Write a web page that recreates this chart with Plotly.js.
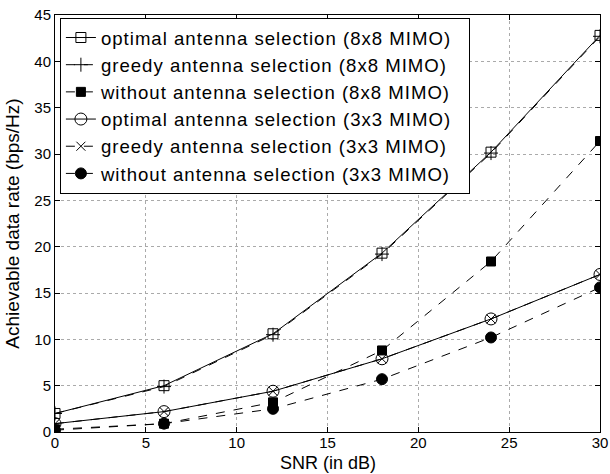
<!DOCTYPE html>
<html>
<head>
<meta charset="utf-8">
<script src="https://cdn.plot.ly/plotly-3.0.1.min.js"></script>
<style>
html,body{margin:0;padding:0;background:#fff;}
#chart{width:610px;height:474px;}
.legendtext{letter-spacing:1px;}
</style>
</head>
<body>
<div id="chart"></div>
<script>
const snr = [0, 6, 12, 18, 24, 30];
const opt8 = [2.0, 5.0, 10.6, 19.3, 30.2, 42.8];
const greedy8 = [2.0, 4.9, 10.5, 19.2, 30.1, 42.7];
const without8 = [0.3, 0.9, 3.2, 8.8, 18.4, 31.4];
const opt3 = [0.9, 2.2, 4.4, 7.9, 12.2, 17.0];
const greedy3 = [0.9, 2.2, 4.4, 7.9, 12.2, 17.0];
const without3 = [0.2, 0.9, 2.5, 5.7, 10.2, 15.6];
const names = [
  'optimal antenna selection (8x8 MIMO)',
  'greedy antenna selection (8x8 MIMO)',
  'without antenna selection (8x8 MIMO)',
  'optimal antenna selection (3x3 MIMO)',
  'greedy antenna selection (3x3 MIMO)',
  'without antenna selection (3x3 MIMO)'
];
const xTicks = [0, 5, 10, 15, 20, 25, 30];
const yTicks = [0, 5, 10, 15, 20, 25, 30, 35, 40, 45];
const xTitle = 'SNR (in dB)';
const yTitle = 'Achievable data rate (bps/Hz)';
const pad = '\u00a0\u00a0';

function tr(y, name, dash, sym, size) {
  return {
    x: snr, y: y, name: name + pad, type: 'scatter', mode: 'lines+markers',
    line: {color: '#000', width: 1, dash: dash},
    marker: {symbol: sym, size: size, color: '#000', line: {color: '#000', width: 1}}
  };
}
const data = [
  tr(opt8, names[0], 'solid', 'square-open', 10),
  tr(greedy8, names[1], 'dash', 'cross-thin-open', 10),
  tr(without8, names[2], 'dash', 'square', 9),
  tr(opt3, names[3], 'solid', 'circle-open', 12),
  tr(greedy3, names[4], 'dash', 'x-thin-open', 9),
  tr(without3, names[5], 'dash', 'circle', 11)
];
const axisCommon = {
  showline: true, linecolor: '#000', linewidth: 1, mirror: 'ticks',
  ticks: 'inside', ticklen: 5, tickcolor: '#000',
  showgrid: true, gridcolor: '#aaaaaa', griddash: 'dot', gridwidth: 1,
  zeroline: false, tickfont: {size: 15, color: '#000'}
};
const layout = {
  width: 610, height: 474,
  margin: {l: 55, r: 10, t: 15, b: 42},
  paper_bgcolor: '#fff', plot_bgcolor: '#fff',
  font: {family: 'Liberation Sans, Arial, Helvetica, sans-serif', color: '#000'},
  showlegend: true,
  xaxis: Object.assign({}, axisCommon, {
    range: [0, 30], tickvals: xTicks, ticktext: xTicks.map(String),
    ticklabelstandoff: -3
  }),
  yaxis: Object.assign({}, axisCommon, {
    range: [0, 45], tickvals: yTicks, ticktext: yTicks.map(String),
    title: {text: yTitle, font: {size: 19}, standoff: 9}
  }),
  annotations: [{
    text: xTitle, xref: 'paper', yref: 'paper', x: 0.5, y: -0.0744,
    xanchor: 'center', yanchor: 'middle', showarrow: false,
    font: {size: 18, color: '#000'}, borderpad: 0
  }],
  legend: {
    x: 0.009, y: 0.993, xanchor: 'left', yanchor: 'top',
    bgcolor: '#fff', bordercolor: '#000', borderwidth: 1,
    font: {size: 18.6, color: '#000'}, tracegroupgap: 0
  }
};
Plotly.newPlot('chart', data, layout, {displayModeBar: false, staticPlot: true});
</script>
</body>
</html>
